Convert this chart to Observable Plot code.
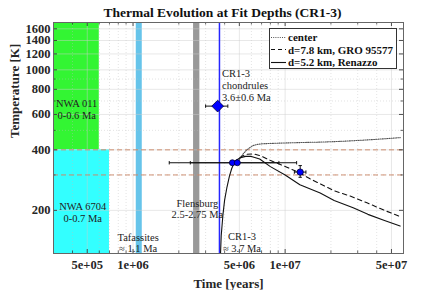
<!DOCTYPE html>
<html><head><meta charset="utf-8">
<script src="https://cdn.jsdelivr.net/npm/d3@7"></script>
<script src="https://cdn.jsdelivr.net/npm/@observablehq/plot@0.6"></script>
<style>
body{margin:0;background:#fff;}
#wrap{position:relative;width:440px;height:290px;font-family:"Liberation Serif","Times New Roman",serif;}
#legend{position:absolute;left:269px;top:28px;width:128px;height:41px;border:1px solid #333;background:#fff;box-sizing:border-box;font-weight:bold;font-size:11px;color:#111;}
.row{position:absolute;left:1px;height:13px;display:flex;align-items:center;white-space:nowrap;}
.row svg{width:15px;height:13px;margin-right:2px;flex:none;}
</style></head><body><div id="wrap"></div>
<script>
// axis ticks
const xTicks = [5e5, 1e6, 5e6, 1e7, 5e7];
const xTickLabels = ["5e+05", "1e+06", "5e+06", "1e+07", "5e+07"];
const yTicks = [200, 400, 600, 800, 1000, 1200, 1400, 1600];

// meteorite age ranges (Ma)
const boxName = ["NWA 011", "NWA 6704"];
const boxAgeMin = [0, 0];
const boxAgeMax = [0.6, 0.7];
const boxTempMin = [400, 0];      // 0 -> bottom of axis
const boxTempMax = [Infinity, 400]; // Infinity -> top of axis
const boxColor = ["#33f533", "#33ffff"];

const bandName = ["Tafassites", "Flensburg"];
const bandAgeMin = [1.05, 2.5];
const bandAgeMax = [1.15, 2.75];
const bandColor = ["#66c4ea", "#999999"];

const cr13Age = 3.7; // Ma
const refTemps = [400, 300];

// model curves
const centerTime = [4.9e6, 5.06e6, 5.3e6, 5.54e6, 5.85e6, 6.16e6, 6.6e6, 7.17e6, 8.5e6, 1.026e7, 1.3e7, 1.7e7, 2.2e7, 2.8e7, 3.8e7, 5.71e7];
const centerTemp = [350, 363, 382, 397, 410, 420, 426, 429, 431, 433, 435, 437, 440, 444, 450, 460];

const d78Time = [4.6e6, 4.9e6, 5.2e6, 5.6e6, 6.18e6, 7.0e6, 7.96e6, 1.026e7, 1.256e7, 1.459e7, 2.08e7, 2.7e7, 3.45e7, 4.5e7, 5.71e7];
const d78Temp = [345, 360, 372, 380, 382, 372, 355, 328, 306, 287, 251, 235, 218, 200, 186];

const d52Time = [3.76e6, 3.8e6, 3.9e6, 4.0e6, 4.15e6, 4.3e6, 4.45e6, 4.6e6, 4.8e6, 5.1e6, 5.5e6, 6.0e6, 6.8e6, 8.0e6, 1.0e7, 1.25e7, 1.7e7, 2.1e7, 2.8e7, 3.5e7, 4.5e7, 5.7e7];
const d52Temp = [122, 150, 190, 225, 262, 295, 322, 342, 356, 366, 371, 371, 360, 330, 300, 268, 244, 224, 206, 191, 178, 167];

// fitted data points
const ptTime = [4.5e6, 4.85e6, 1.256e7];
const ptTemp = [345, 345, 310];
const ptTimeLo = [1.73e6, 2.38e6, 1.15e7];
const ptTimeHi = [9.1e6, 1.19e7, 1.37e7];
const ptTempLo = [345, 345, 292];
const ptTempHi = [345, 345, 334];

const chondTime = [3.6e6], chondTemp = [660], chondTimeLo = [3.0e6], chondTimeHi = [4.2e6];

// annotations
const noteText = ["NWA 011\n0-0.6 Ma", "NWA 6704\n0-0.7 Ma", "Tafassites\n≈ 1.1 Ma", "Flensburg\n2.5-2.75 Ma", "CR1-3\nchondrules\n3.6±0.6 Ma", "CR1-3\n≈ 3.7 Ma"];
const noteTime = [4.26e5, 4.67e5, 1.08e6, 2.65e6, 3.85e6, 5.2e6];
const noteTemp = [636, 195, 138, 204, 836, 139];
const noteAnchor = ["middle", "middle", "middle", "middle", "start", "middle"];

const legendLabels = ["center", "d=7.8 km, GRO 95577", "d=5.2 km, Renazzo"];

// ---- layout
const W = 440, H = 290, mL = 53, mR = 37, mT = 22, mB = 37;
const xDomain = [3e5, 6e7], yDomain = [122, 1720];
const pxDecX = (W - mL - mR) / Math.log10(xDomain[1] / xDomain[0]);
const pxDecY = (H - mT - mB) / Math.log10(yDomain[1] / yDomain[0]);
const kx = len => 10 ** (len / pxDecX), ky = len => 10 ** (len / pxDecY);
const clampX = v => Math.min(Math.max(v, xDomain[0]), xDomain[1]);
const clampY = v => Math.min(Math.max(v, yDomain[0]), yDomain[1]);

const boxes = boxName.map((n, i) => ({x1: clampX(boxAgeMin[i] * 1e6), x2: clampX(boxAgeMax[i] * 1e6), y1: clampY(boxTempMin[i]), y2: clampY(boxTempMax[i]), c: boxColor[i]}));
const bands = bandName.map((n, i) => ({x1: bandAgeMin[i] * 1e6, x2: bandAgeMax[i] * 1e6, y1: yDomain[0], y2: yDomain[1], c: bandColor[i]}));
const curve = (t, T) => t.map((d, i) => ({t: d, T: T[i]}));
const pts = ptTime.map((t, i) => ({t, T: ptTemp[i], lo: ptTimeLo[i], hi: ptTimeHi[i], tlo: ptTempLo[i], thi: ptTempHi[i]}));
const chond = chondTime.map((t, i) => ({t, T: chondTemp[i], lo: chondTimeLo[i], hi: chondTimeHi[i]}));
const notes = noteText.map((s, i) => ({s, t: noteTime[i], T: noteTemp[i], a: noteAnchor[i]}));
const xLab = xTicks.map((v, i) => ({v, s: xTickLabels[i]}));

const logX = d3.scaleLog().domain(xDomain).ticks();
const logY = d3.scaleLog().domain(yDomain).ticks().filter(d => d >= yDomain[0] && d <= yDomain[1]);
const minorX = logX.filter(d => !xTicks.includes(d));
const minorY = logY.filter(d => !yTicks.includes(d));

const vbar = {draw(ctx, size) { const r = Math.sqrt(size / Math.PI); ctx.moveTo(0, -r); ctx.lineTo(0, r); }};
const hbar = {draw(ctx, size) { const r = Math.sqrt(size / Math.PI); ctx.moveTo(-r, 0); ctx.lineTo(r, 0); }};

const font = "'Liberation Serif', 'Times New Roman', serif";
const ink = "#262626";
const eb = "#111";

const plot = Plot.plot({
  width: W, height: H, marginLeft: mL, marginRight: mR, marginTop: mT, marginBottom: mB,
  style: {fontFamily: font, background: "white", color: ink, overflow: "visible"},
  x: {type: "log", domain: xDomain, axis: null},
  y: {type: "log", domain: yDomain, axis: null},
  marks: [
    Plot.rect(boxes, {x1: "x1", x2: "x2", y1: "y1", y2: "y2", fill: "c"}),
    Plot.rect(bands, {x1: "x1", x2: "x2", y1: "y1", y2: "y2", fill: "c"}),
    // grid
    Plot.ruleX(minorX, {x: d => d, stroke: "#bbb", strokeOpacity: 0.6, strokeDasharray: "1,2", strokeWidth: 0.7}),
    Plot.ruleY(minorY, {y: d => d, stroke: "#bbb", strokeOpacity: 0.6, strokeDasharray: "1,2", strokeWidth: 0.7}),
    Plot.ruleX(xTicks, {x: d => d, stroke: "#ccc", strokeOpacity: 0.6, strokeWidth: 0.8}),
    Plot.ruleY(yTicks, {y: d => d, stroke: "#ccc", strokeOpacity: 0.6, strokeWidth: 0.8}),
    // CR1-3 age line
    Plot.ruleX([cr13Age * 1e6], {x: d => d, stroke: "#2626ff", strokeWidth: 1.5}),
    // reference temperatures
    Plot.ruleY(refTemps, {y: d => d, stroke: "#c98563", strokeDasharray: "5,3", strokeWidth: 0.9}),
    // curves
    Plot.line(curve(centerTime, centerTemp), {x: "t", y: "T", stroke: "#555", strokeWidth: 1.1, strokeDasharray: "1,1.2"}),
    Plot.line(curve(d78Time, d78Temp), {x: "t", y: "T", stroke: "#111", strokeWidth: 1.1, strokeDasharray: "4.5,3.5"}),
    Plot.line(curve(d52Time, d52Temp), {x: "t", y: "T", stroke: "#111", strokeWidth: 1.1}),
    // error bars
    Plot.link(pts, {x1: "lo", x2: "hi", y1: "T", y2: "T", stroke: eb, strokeWidth: 1}),
    Plot.dot(pts, {x: "lo", y: "T", symbol: vbar, r: 1.7, stroke: eb, strokeWidth: 1}),
    Plot.dot(pts, {x: "hi", y: "T", symbol: vbar, r: 1.7, stroke: eb, strokeWidth: 1}),
    Plot.link(pts.filter(d => d.tlo !== d.thi), {x1: "t", x2: "t", y1: "tlo", y2: "thi", stroke: eb, strokeWidth: 1}),
    Plot.dot(pts.filter(d => d.tlo !== d.thi), {x: "t", y: "tlo", symbol: hbar, r: 1.7, stroke: eb, strokeWidth: 1}),
    Plot.dot(pts.filter(d => d.tlo !== d.thi), {x: "t", y: "thi", symbol: hbar, r: 1.7, stroke: eb, strokeWidth: 1}),
    Plot.link(chond, {x1: "lo", x2: "hi", y1: "T", y2: "T", stroke: eb, strokeWidth: 1}),
    Plot.dot(chond, {x: "lo", y: "T", symbol: vbar, r: 1.7, stroke: eb, strokeWidth: 1}),
    Plot.dot(chond, {x: "hi", y: "T", symbol: vbar, r: 1.7, stroke: eb, strokeWidth: 1}),
    // markers
    Plot.dot(pts, {x: "t", y: "T", r: (d, i) => i === 2 ? 4.8 : 4.3, fill: "#0000ff", stroke: "#000033", strokeWidth: 0.8}),
    Plot.dot(chond, {x: "t", y: "T", symbol: "diamond2", r: 5.3, fill: "#0000ff", stroke: "#000033", strokeWidth: 0.8}),
    // annotations
    Plot.text(notes.filter(d => d.a === "middle"), {x: "t", y: "T", text: "s", textAnchor: "middle", fontSize: 10.5, lineHeight: 1.12, fill: "#222"}),
    Plot.text(notes.filter(d => d.a === "start"), {x: "t", y: "T", text: "s", textAnchor: "start", fontSize: 10.5, lineHeight: 1.12, fill: "#222"}),
    // ticks (inward, mirrored)
    Plot.ruleX(xTicks, {x: d => d, y1: yDomain[0], y2: yDomain[0] * ky(4), stroke: ink, strokeWidth: 0.8}),
    Plot.ruleX(xTicks, {x: d => d, y1: yDomain[1] / ky(4), y2: yDomain[1], stroke: ink, strokeWidth: 0.8}),
    Plot.ruleX(minorX, {x: d => d, y1: yDomain[0], y2: yDomain[0] * ky(2.5), stroke: ink, strokeWidth: 0.7}),
    Plot.ruleX(minorX, {x: d => d, y1: yDomain[1] / ky(2.5), y2: yDomain[1], stroke: ink, strokeWidth: 0.7}),
    Plot.ruleY(yTicks, {y: d => d, x1: xDomain[0], x2: xDomain[0] * kx(4), stroke: ink, strokeWidth: 0.8}),
    Plot.ruleY(yTicks, {y: d => d, x1: xDomain[1] / kx(4), x2: xDomain[1], stroke: ink, strokeWidth: 0.8}),
    Plot.ruleY(minorY, {y: d => d, x1: xDomain[0], x2: xDomain[0] * kx(2.5), stroke: ink, strokeWidth: 0.7}),
    Plot.ruleY(minorY, {y: d => d, x1: xDomain[1] / kx(2.5), x2: xDomain[1], stroke: ink, strokeWidth: 0.7}),
    Plot.frame({stroke: "#666", strokeWidth: 1}),
    // tick labels
    Plot.text(xLab, {x: "v", text: "s", frameAnchor: "bottom", lineAnchor: "top", dy: 7, fontSize: 12.5, fontWeight: "bold", fill: ink}),
    Plot.text(yTicks, {y: d => d, text: d => String(d), frameAnchor: "left", textAnchor: "end", dx: -3, fontSize: 12.5, fontWeight: "bold", fill: ink}),
    // axis titles
    Plot.text(["Time [years]"], {frameAnchor: "bottom", lineAnchor: "bottom", dy: 34, fontSize: 13, fontWeight: "bold", fill: ink}),
    Plot.text(["Temperature [K]"], {frameAnchor: "left", rotate: -90, dx: -39, fontSize: 13, fontWeight: "bold", fill: ink}),
    Plot.text(["Thermal Evolution at Fit Depths (CR1-3)"], {frameAnchor: "top", lineAnchor: "bottom", dy: -6, dx: -6, fontSize: 13.5, fontWeight: "bold", fill: "#111"})
  ]
});

const wrap = document.getElementById("wrap");
wrap.appendChild(plot);

// legend
const leg = document.createElement("div");
leg.id = "legend";
const styles = [
  {stroke: "#555", dash: "1,1.2"},
  {stroke: "#111", dash: "4,3"},
  {stroke: "#111", dash: null}
];
const rowTop = [1.5, 14, 26.5];
legendLabels.forEach((lab, i) => {
  const row = document.createElement("div");
  row.className = "row";
  row.style.top = rowTop[i] + "px";
  const s = styles[i];
  row.innerHTML = `<svg viewBox="0 0 15 13"><line x1="0" x2="15" y1="6.5" y2="6.5" stroke="${s.stroke}" stroke-width="1.1" ${s.dash ? `stroke-dasharray="${s.dash}"` : ""}/></svg><span>${lab}</span>`;
  leg.appendChild(row);
});
wrap.appendChild(leg);
</script>
</body></html>
